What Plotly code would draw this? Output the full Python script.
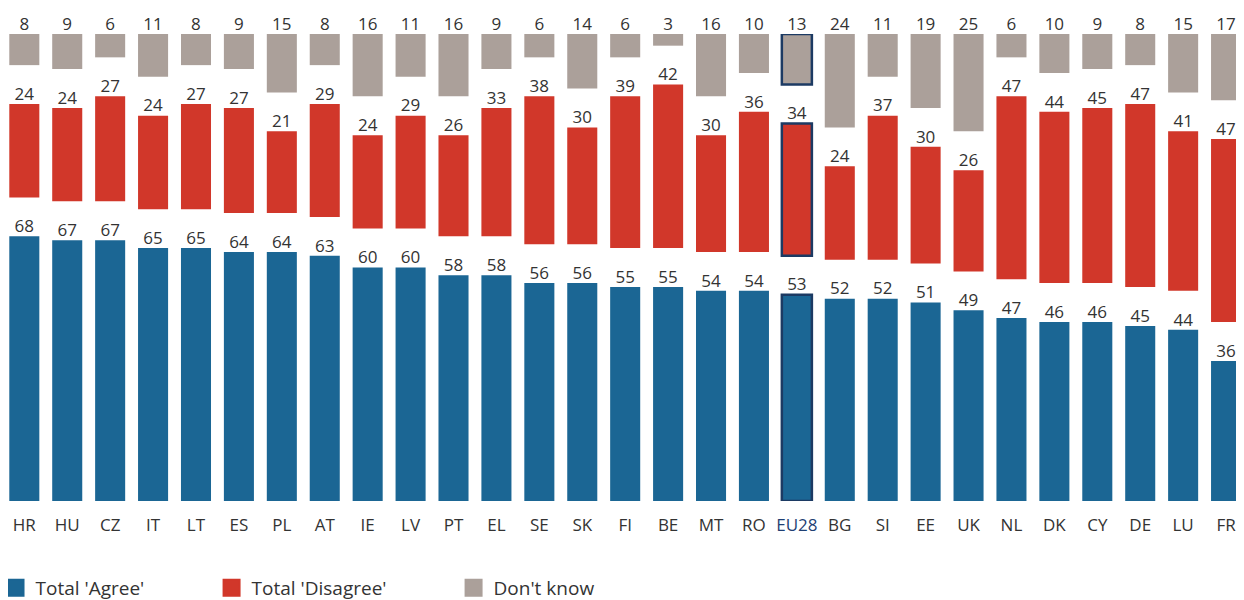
import plotly.graph_objects as go

countries = ["HR", "HU", "CZ", "IT", "LT", "ES", "PL", "AT", "IE", "LV", "PT", "EL", "SE", "SK",
             "FI", "BE", "MT", "RO", "EU28", "BG", "SI", "EE", "UK", "NL", "DK", "CY", "DE", "LU", "FR"]
agree = [68, 67, 67, 65, 65, 64, 64, 63, 60, 60, 58, 58, 56, 56, 55, 55, 54, 54, 53, 52, 52, 51,
         49, 47, 46, 46, 45, 44, 36]
disagree = [24, 24, 27, 24, 27, 27, 21, 29, 24, 29, 26, 33, 38, 30, 39, 42, 30, 36, 34, 24, 37, 30,
            26, 47, 44, 45, 47, 41, 47]
dont_know = [8, 9, 6, 11, 8, 9, 15, 8, 16, 11, 16, 9, 6, 14, 6, 3, 16, 10, 13, 24, 11, 19, 25, 6,
             10, 9, 8, 15, 17]

GAP = 10
BLUE = "#1b6694"
RED = "#d1372a"
GREY = "#aba09a"
NAVY = "#1c3a63"
TXT = "#333333"
FONT = "Open Sans"

x = list(range(len(countries)))
red_base = [a + GAP for a in agree]
red_top = [b + d for b, d in zip(red_base, disagree)]
grey_base = [t + GAP for t in red_top]
grey_top = [b + k for b, k in zip(grey_base, dont_know)]

hl = [c == "EU28" for c in countries]
lw = [2.5 if h else 0 for h in hl]
lc = [NAVY if h else "rgba(0,0,0,0)" for h in hl]

fig = go.Figure()
fig.add_trace(go.Bar(x=x, y=agree, base=0, width=0.7, marker=dict(color=BLUE, line=dict(width=lw, color=lc)),
                     showlegend=False, hoverinfo="skip"))
fig.add_trace(go.Bar(x=x, y=disagree, base=red_base, width=0.7,
                     marker=dict(color=RED, line=dict(width=lw, color=lc)), showlegend=False, hoverinfo="skip"))
fig.add_trace(go.Bar(x=x, y=dont_know, base=grey_base, width=0.7,
                     marker=dict(color=GREY, line=dict(width=lw, color=lc)), showlegend=False, hoverinfo="skip"))

for tops, vals in [(agree, agree), (red_top, disagree), (grey_top, dont_know)]:
    fig.add_trace(go.Scatter(x=x, y=tops, text=[str(v) for v in vals], mode="text",
                             textposition="top center", textfont=dict(family=FONT, size=17, color=TXT),
                             cliponaxis=False, showlegend=False, hoverinfo="skip"))

# legend entries
for name, col, lg in [("Total 'Agree'", BLUE, "legend"), ("Total 'Disagree'", RED, "legend2"),
                      ("Don't know", GREY, "legend3")]:
    fig.add_trace(go.Scatter(x=[None], y=[None], mode="markers", name=name,
                             marker=dict(symbol="square", size=18, color=col, line=dict(width=2, color=col)),
                             legend=lg))

ticktext = [f'<span style="color:#1f3f73">{c}</span>' if c == "EU28" else c for c in countries]

leg_common = dict(orientation="h", yanchor="middle", y=-0.1863, xanchor="left",
                  font=dict(family=FONT, size=19, color=TXT), bgcolor="rgba(0,0,0,0)")
fig.update_layout(
    width=1236, height=592,
    margin=dict(l=0, r=0, t=26, b=99, autoexpand=False),
    barmode="overlay",
    plot_bgcolor="white", paper_bgcolor="white",
    font=dict(family=FONT, color=TXT),
    xaxis=dict(range=[-0.380, 28.418], tickvals=x, ticktext=ticktext, showgrid=False, zeroline=False,
               showline=False, ticks="outside", ticklen=9, tickcolor="rgba(0,0,0,0)",
               tickfont=dict(family=FONT, size=17, color=TXT), fixedrange=True, automargin=False),
    yaxis=dict(range=[0, 120], visible=False, fixedrange=True, automargin=False),
    legend=dict(x=-0.0101, **leg_common),
    legend2=dict(x=0.1647, **leg_common),
    legend3=dict(x=0.3605, **leg_common),
)

fig.write_html("out.html")
